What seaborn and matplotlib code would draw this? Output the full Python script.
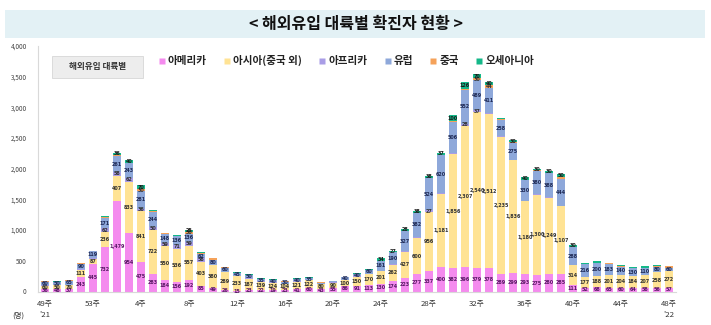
import numpy as np
import pandas as pd
import matplotlib
matplotlib.use("Agg")
import matplotlib.pyplot as plt
from matplotlib.patches import Rectangle
from matplotlib.lines import Line2D
import seaborn as sns

weeks = [49, 50, 51, 52, 53] + list(range(1, 49))
america = [36, 48, 37, 243, 445, 732, 1479, 954, 475, 283, 184, 156, 192, 85, 49, 26, 15, 23, 22, 19,
           23, 41, 60, 43, 55, 86, 91, 113, 130, 174, 223, 277, 337, 400, 382, 396, 379, 378, 289, 299,
           293, 275, 280, 285, 111, 52, 68, 65, 60, 64, 58, 56, 57]
asia = [60, 50, 70, 111, 87, 236, 407, 833, 841, 722, 550, 536, 557, 403, 380, 289, 233, 187, 139, 124,
        104, 121, 122, 80, 90, 100, 150, 170, 201, 262, 427, 600, 956, 1181, 1856, 2307, 2540, 2512, 2235, 1836,
        1180, 1300, 1249, 1107, 314, 177, 188, 201, 204, 184, 207, 258, 272]
africa = [5, 5, 6, 10, 7, 62, 58, 62, 36, 50, 59, 71, 59, 58, 9, 8, 6, 5, 4, 4,
          3, 4, 4, 3, 3, 5, 6, 8, 8, 10, 7, 16, 27, 21, 19, 28, 37, 21, 9, 15,
          7, 9, 11, 5, 5, 4, 4, 4, 3, 2, 3, 11, 2]
europe = [60, 50, 65, 90, 119, 171, 261, 243, 281, 244, 148, 136, 136, 62, 80, 60, 45, 50, 35, 40,
          30, 40, 35, 20, 20, 40, 40, 60, 161, 190, 327, 382, 524, 620, 506, 552, 489, 411, 258, 275,
          330, 380, 388, 444, 288, 216, 200, 183, 140, 130, 110, 80, 60]
china = [5, 5, 5, 5, 5, 5, 20, 5, 30, 10, 5, 5, 30, 20, 20, 10, 8, 8, 8, 6,
         5, 5, 6, 5, 5, 5, 5, 6, 5, 5, 5, 5, 5, 5, 10, 10, 30, 44, 15, 10,
         10, 10, 10, 20, 10, 5, 10, 6, 10, 10, 10, 10, 20]
oceania = [5, 5, 5, 5, 3, 16, 36, 40, 70, 20, 10, 10, 25, 20, 10, 10, 5, 10, 5, 8,
           5, 8, 8, 5, 5, 6, 8, 12, 34, 27, 28, 38, 38, 37, 100, 126, 70, 40, 20, 30,
           40, 30, 30, 50, 30, 10, 20, 10, 15, 10, 20, 20, 10]

series_names = ["아메리카", "아시아(중국 외)", "아프리카", "유럽", "중국", "오세아니아"]
series_vals = [america, asia, africa, europe, china, oceania]
colors = ["#F48BEE", "#FFE394", "#A99DE6", "#8EA8DA", "#F5A25A", "#14B889"]
label_colors = ["#5A1A66", "#333333", "#333333", "#1F2A55", "#333333", "#1b1b1b"]

week_labels = [f"{w}주" for w in weeks]
df = pd.DataFrame({"week": week_labels})
for n, v in zip(series_names, series_vals):
    df[n] = v
cum = df[series_names].cumsum(axis=1)

sns.set_theme(style="white")
plt.rcParams["font.family"] = ["Noto Sans CJK KR", "DejaVu Sans"]

fig = plt.figure(figsize=(7.11, 3.25), dpi=100)
ax = fig.add_axes([37.8 / 711, 1 - 291.5 / 325, (676.2 - 37.8) / 711, 245.5 / 325])

# stacked bars drawn as overlapping cumulative bars (top-most first)
for i in range(len(series_names) - 1, -1, -1):
    sns.barplot(x=df["week"], y=cum[series_names[i]], color=colors[i], ax=ax,
                width=0.68, saturation=1, order=week_labels, linewidth=0)

# segment labels
for j in range(len(weeks)):
    bottom = 0
    for i, n in enumerate(series_names):
        v = series_vals[i][j]
        mid = bottom + v / 2
        if i <= 1 or v >= 25:
            ax.text(j, mid, f"{v:,}", ha="center", va="center", fontsize=3.5,
                    color=label_colors[i], fontweight="bold", family=["DejaVu Sans"])
        bottom += v

ax.set_ylim(0, 4000)
ax.set_xlim(-0.6, len(weeks) - 0.4)
ax.set_yticks(np.arange(0, 4001, 500))
ax.set_yticklabels([f"{t:,}" for t in range(0, 4001, 500)], fontsize=4.6, color="#444444")
ticks = list(range(0, len(weeks), 4))
ax.set_xticks(ticks)
xl = []
for t in ticks:
    s = week_labels[t]
    if t == 0:
        s += "\n'21"
    elif t == len(weeks) - 1:
        s += "\n'22"
    xl.append(s)
ax.set_xticklabels(xl, fontsize=5.6, color="#333333", linespacing=1.6, va="top")
ax.tick_params(axis="both", length=0, pad=6)
ax.tick_params(axis="y", pad=8)
ax.set_xlabel("")
ax.set_ylabel("")
for sp in ["top", "right"]:
    ax.spines[sp].set_visible(False)
ax.spines["left"].set_color("#D9D9D9")
ax.spines["left"].set_linewidth(0.8)
ax.spines["bottom"].set_color("#D9D9D9")
ax.spines["bottom"].set_linewidth(0.8)
ax.grid(False)

fig.text(12 / 711, 1 - 316 / 325, "(명)", fontsize=5.4, color="#333333", va="center")

# title box
fig.patches.append(Rectangle((5 / 711, 1 - 38 / 325), 700 / 711, 28 / 325, transform=fig.transFigure,
                             facecolor="#E3F1F5", edgecolor="none", zorder=0))
fig.text(0.5, 1 - 24 / 325, "< 해외유입 대륙별 확진자 현황 >", ha="center", va="center",
         fontsize=11.5, fontweight="bold", color="#111111")

# grey label box
fig.patches.append(Rectangle((52 / 711, 1 - 78 / 325), 91 / 711, 22 / 325, transform=fig.transFigure,
                             facecolor="#EDEDED", edgecolor="#D0D0D0", linewidth=0.5, zorder=1))
fig.text(97.5 / 711, 1 - 67 / 325, "해외유입 대륙별", ha="center", va="center", fontsize=6.2,
         color="#333333", fontweight="bold")

# legend
handles = [Line2D([0], [0], marker="s", linestyle="none", markersize=4.2, markerfacecolor=c,
                  markeredgecolor="none") for c in colors]
leg = fig.legend(handles, series_names, loc="upper left", bbox_to_anchor=(152 / 711, 1 - 51 / 325),
                 ncol=6, frameon=False, fontsize=7.6, handletextpad=0.1, columnspacing=1.4,
                 borderaxespad=0, handlelength=1.0)
for t in leg.get_texts():
    t.set_fontweight("bold")
    t.set_color("#222222")

fig.savefig("out.png", dpi=100)
